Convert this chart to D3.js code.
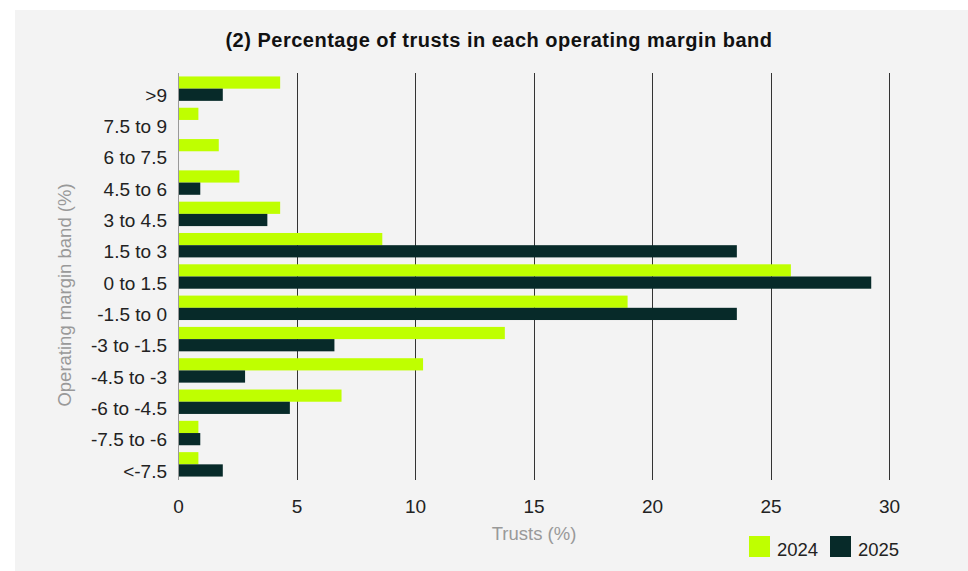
<html>
<head>
<meta charset="utf-8">
<script src="https://d3js.org/d3.v7.min.js"></script>
<style>
body {
  margin: 0;
  background: #fff;
}
svg {
  display: block;
}
text {
  font-family: "Liberation Sans", Arial, Helvetica, sans-serif;
}
</style>
</head>
<body>
<svg width="968" height="571"></svg>
<script>

// bands top to bottom
var bands = [">9", "7.5 to 9", "6 to 7.5", "4.5 to 6", "3 to 4.5", "1.5 to 3", "0 to 1.5",
  "-1.5 to 0", "-3 to -1.5", "-4.5 to -3", "-6 to -4.5", "-7.5 to -6", "<-7.5"];
var years = ["2024", "2025"];
var values2024 = [4.31, 0.86, 1.72, 2.59, 4.31, 8.62, 25.86, 18.97, 13.79, 10.34, 6.90, 0.86, 0.86];
var values2025 = [1.89, 0, 0, 0.94, 3.77, 23.58, 29.25, 23.58, 6.60, 2.83, 4.72, 0.94, 1.89];
var xTicks = [0, 5, 10, 15, 20, 25, 30];
var colors = ["#bfff00", "#072a29"];

var data = bands.map(function(b, i) {
  return {band: b, "2024": values2024[i], "2025": values2025[i]};
});

var svg = d3.select("svg");

svg.append("rect")
  .attr("x", 15).attr("y", 10)
  .attr("width", 953).attr("height", 561)
  .attr("fill", "#f3f3f3");

var x = d3.scaleLinear()
  .domain([0, 30])
  .range([178, 889]);

var y = d3.scaleBand()
  .domain(bands)
  .range([73, 480])
  .paddingInner(0.22)
  .paddingOuter(0.11);

var y1 = d3.scaleBand()
  .domain(years)
  .range([0, y.bandwidth()]);

// gridlines
svg.append("g")
  .selectAll("line")
  .data(xTicks.slice(1))
  .enter().append("line")
  .attr("x1", d => Math.round(x(d)) + 0.5)
  .attr("x2", d => Math.round(x(d)) + 0.5)
  .attr("y1", 73)
  .attr("y2", 480)
  .attr("stroke", "#333")
  .attr("stroke-width", 1);

// bars
var groups = svg.append("g")
  .selectAll("g")
  .data(data)
  .enter().append("g")
  .attr("transform", d => "translate(0," + y(d.band) + ")");

groups.selectAll("rect")
  .data(d => years.map(k => ({key: k, value: d[k]})))
  .enter().append("rect")
  .attr("x", x(0))
  .attr("y", d => y1(d.key))
  .attr("width", d => x(d.value) - x(0))
  .attr("height", y1.bandwidth())
  .attr("fill", (d, i) => colors[i]);

// baseline
svg.append("line")
  .attr("x1", Math.round(x(0)) + 0.5)
  .attr("x2", Math.round(x(0)) + 0.5)
  .attr("y1", 73).attr("y2", 480)
  .attr("stroke", "#999");

// x tick labels
var xAxis = d3.axisBottom(x).tickValues(xTicks).tickSize(0).tickPadding(20);
var gx = svg.append("g")
  .attr("transform", "translate(0,480)")
  .call(xAxis);
gx.select(".domain").remove();
gx.selectAll("text")
  .attr("font-size", "19px")
  .attr("fill", "#222")
  .attr("font-family", "Liberation Sans, Arial, sans-serif");

// y labels
var yAxis = d3.axisLeft(y).tickSize(0).tickPadding(11);
var gy = svg.append("g")
  .attr("transform", "translate(178,0)")
  .call(yAxis);
gy.select(".domain").remove();
gy.selectAll(".tick")
  .attr("transform", d => "translate(0," + (y(d) + y.bandwidth() * 0.75 + 1) + ")");
gy.selectAll("text")
  .attr("font-size", "19px")
  .attr("fill", "#222")
  .attr("font-family", "Liberation Sans, Arial, sans-serif");

// title
svg.append("text")
  .attr("x", 499).attr("y", 47)
  .attr("text-anchor", "middle")
  .attr("font-size", "20px")
  .attr("letter-spacing", "0.5px")
  .attr("font-weight", "bold")
  .attr("fill", "#111")
  .text("(2) Percentage of trusts in each operating margin band");

// axis titles
svg.append("text")
  .attr("x", 534).attr("y", 540)
  .attr("text-anchor", "middle")
  .attr("font-size", "18.5px")
  .attr("fill", "#999")
  .text("Trusts (%)");

svg.append("text")
  .attr("transform", "translate(71,295) rotate(-90)")
  .attr("text-anchor", "middle")
  .attr("font-size", "18.5px")
  .attr("fill", "#999")
  .text("Operating margin band (%)");

// legend
var legend = svg.append("g")
  .selectAll("g")
  .data(years)
  .enter().append("g")
  .attr("transform", (d, i) => "translate(" + (749 + i * 81) + ",536)");

legend.append("rect")
  .attr("width", 21).attr("height", 21)
  .attr("fill", (d, i) => colors[i]);

legend.append("text")
  .attr("x", 28).attr("y", 19.5)
  .attr("font-size", "18.5px")
  .attr("fill", "#222")
  .text(d => d);

</script>
</body>
</html>
